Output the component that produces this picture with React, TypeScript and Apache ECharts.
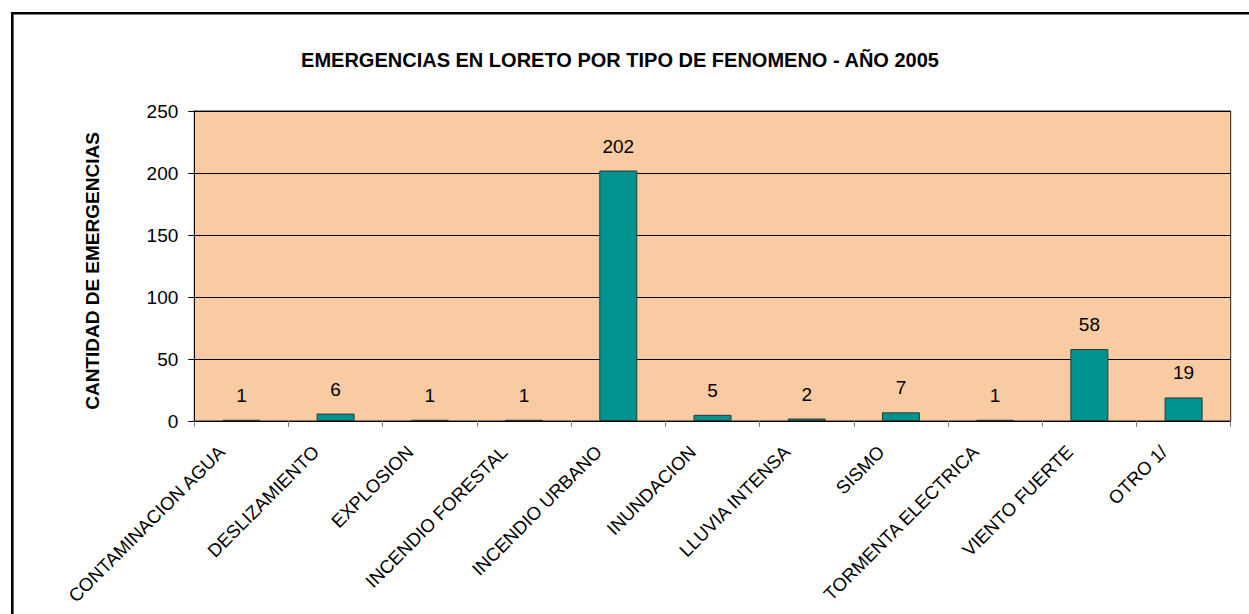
import React, { useEffect, useRef } from "react";
import * as echarts from "echarts";

const categories = [
  "CONTAMINACION AGUA",
  "DESLIZAMIENTO",
  "EXPLOSION",
  "INCENDIO FORESTAL",
  "INCENDIO URBANO",
  "INUNDACION",
  "LLUVIA INTENSA",
  "SISMO",
  "TORMENTA ELECTRICA",
  "VIENTO FUERTE",
  "OTRO 1/",
];
const values = [1, 6, 1, 1, 202, 5, 2, 7, 1, 58, 19];
const yTicks = { min: 0, max: 250, interval: 50 };
const titleText = "EMERGENCIAS EN LORETO POR TIPO DE FENOMENO - AÑO 2005";
const yAxisTitle = "CANTIDAD DE EMERGENCIAS";

const FONT = "'Liberation Sans', Arial, sans-serif";

export default function App() {
  const ref = useRef<HTMLDivElement>(null);
  useEffect(() => {
    if (!ref.current) return;
    const chart = echarts.init(ref.current, null, { renderer: "svg" });
    chart.setOption({
      animation: false,
      backgroundColor: "#ffffff",
      title: {
        text: titleText,
        left: 615,
        top: 45,
        textAlign: "center",
        textStyle: { fontFamily: FONT, fontSize: 20, fontWeight: "bold", color: "#000" },
      },
      graphic: [
        {
          type: "rect",
          shape: { x: 12.3, y: 13.3, width: 1400, height: 800 },
          style: { fill: "none", stroke: "#000", lineWidth: 2.6 },
          silent: true,
        },
        {
          type: "text",
          x: 92,
          y: 271,
          rotation: Math.PI / 2,
          style: {
            text: yAxisTitle,
            fontFamily: FONT,
            fontSize: 19,
            fontWeight: "bold",
            fill: "#000",
            align: "center",
            verticalAlign: "middle",
          },
        },
      ],
      grid: {
        left: 194.3,
        right: 18.3,
        top: 111,
        bottom: 193,
        show: true,
        backgroundColor: "#F8CBA3",
        borderColor: "#222",
        borderWidth: 1,
      },
      xAxis: {
        type: "category",
        data: categories,
        axisLine: { show: true, lineStyle: { color: "#000", width: 1 } },
        axisTick: { show: true, alignWithLabel: false, length: 6, lineStyle: { color: "#808080" } },
        axisLabel: {
          interval: 0,
          rotate: 45,
          margin: 8,
          padding: [0, 28, 0, 0],
          fontFamily: FONT,
          fontSize: 18.5,
          color: "#000",
        },
        splitLine: { show: false },
      },
      yAxis: {
        type: "value",
        min: yTicks.min,
        max: yTicks.max,
        interval: yTicks.interval,
        axisLine: { show: true, lineStyle: { color: "#000", width: 1 } },
        axisTick: { show: true, length: 6, lineStyle: { color: "#000" } },
        axisLabel: { margin: 16, fontFamily: FONT, fontSize: 19, color: "#000" },
        splitLine: { show: true, lineStyle: { color: "#000", width: 1 } },
      },
      series: [
        {
          type: "bar",
          data: values,
          barWidth: 38,
          itemStyle: { color: "#00928F", borderColor: "#2a3a3a", borderWidth: 1 },
          label: {
            show: true,
            position: "top",
            distance: 15,
            fontFamily: FONT,
            fontSize: 19,
            color: "#000",
          },
        },
      ],
    });
    return () => chart.dispose();
  }, []);
  return (
    <div
      ref={ref}
      style={{ position: "fixed", left: 0, top: 0, width: 1249, height: 614 }}
    />
  );
}
